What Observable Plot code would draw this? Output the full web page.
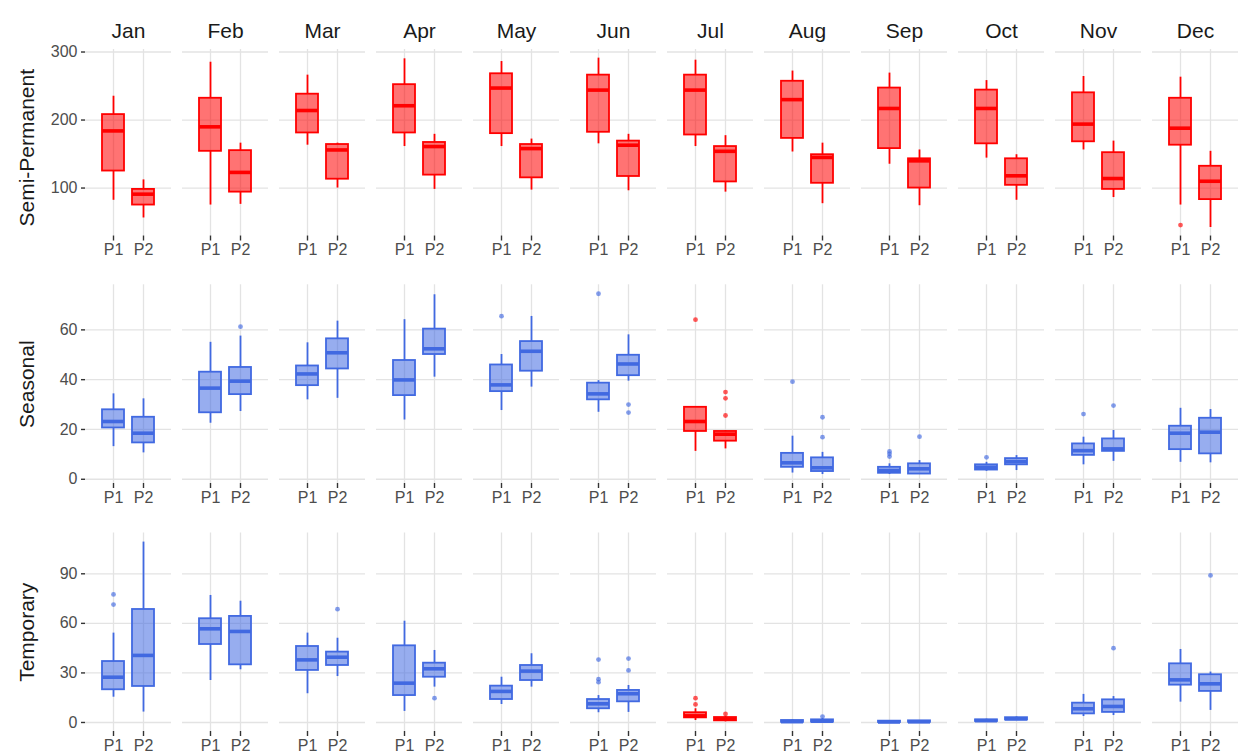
<!DOCTYPE html>
<html>
<head>
<meta charset="utf-8">
<script src="https://cdn.jsdelivr.net/npm/d3@7"></script>
<script src="https://cdn.jsdelivr.net/npm/@observablehq/plot@0.6"></script>
<style>
  body { margin: 0; background: #fff; }
  #chart svg { display: block; }
</style>
</head>
<body>
<div id="chart"></div>
<script>
// Monthly box-plot summaries for two periods (P1, P2) of three wetland classes.
// Every stat array is ordered Jan P1, Jan P2, Feb P1, Feb P2, ... Dec P2.
const months = ["Jan", "Feb", "Mar", "Apr", "May", "Jun", "Jul", "Aug", "Sep", "Oct", "Nov", "Dec"];
const periods = ["P1", "P2"];

// Semi-Permanent
const semiLo  = [82, 56, 75, 76, 163, 100, 161, 98, 161, 97, 165, 96, 161, 94, 153, 77, 135, 74, 144, 82, 156, 86, 75, 42];
const semiQ1  = [125, 75, 154, 94, 181, 113, 181, 119, 180, 115, 182, 117, 178, 109, 173, 107, 158, 100, 165, 104, 168, 98, 163, 83];
const semiMed = [184, 91, 190, 123, 214, 156, 221, 161, 247, 158, 244, 163, 244, 154, 230, 145, 217, 140, 217, 118, 194, 114, 188, 110];
const semiQ3  = [208, 98, 232, 155, 238, 164, 252, 167, 268, 164, 266, 169, 266, 161, 257, 149, 247, 143, 244, 143, 240, 152, 232, 132];
const semiHi  = [235, 112, 285, 166, 266, 166, 290, 179, 286, 172, 291, 179, 288, 177, 272, 166, 269, 156, 258, 149, 264, 169, 263, 154];
const semiOut = [["Dec", "P1", 45.5]];
const semiRed = months;

// Seasonal
const seasLo  = [13.1, 10.6, 22.5, 27.2, 31.9, 32.5, 23.8, 41, 27.6, 37, 26.9, 39.4, 11.2, 12.2, 2.5, 1.9, 1.9, 1.9, 3.2, 3.5, 5.8, 7.2, 6.8, 6.6];
const seasQ1  = [20.6, 14.6, 26.7, 34, 37.6, 44.3, 33.6, 50.1, 35.2, 43.4, 31.9, 41.6, 19.2, 15.3, 4.8, 3.1, 2.4, 2.1, 3.7, 5.8, 9.6, 11.2, 11.9, 10.2];
const seasMed = [23.2, 18.5, 36.6, 39.4, 42.3, 50.8, 39.9, 52.4, 37.9, 51.4, 34.3, 46.3, 23.2, 18.1, 6.6, 4.6, 3.5, 4.2, 4.8, 7.1, 11.5, 12.2, 18.5, 18.9];
const seasQ3  = [27.9, 24.9, 43, 44.9, 45.5, 56.4, 47.7, 60.3, 45.9, 55.3, 38.6, 49.8, 28.9, 19.2, 10.4, 8.6, 4.8, 6.2, 5.8, 8.3, 14.2, 16.2, 21.3, 24.5];
const seasHi  = [34.3, 32.3, 55, 57.5, 54.8, 63.5, 64.1, 74.1, 50.1, 65.4, 39.6, 58, 28.9, 19.6, 17.3, 10.8, 6.2, 7.5, 6.8, 9.5, 16.9, 19.6, 28.5, 28];
const seasOut = [
  ["Feb", "P2", 61.3], ["May", "P1", 65.5], ["Jun", "P1", 74.5], ["Jun", "P2", 30], ["Jun", "P2", 26.8],
  ["Jul", "P1", 64.1], ["Jul", "P2", 35], ["Jul", "P2", 32.5], ["Jul", "P2", 25.6],
  ["Aug", "P1", 39.2], ["Aug", "P2", 24.9], ["Aug", "P2", 16.9],
  ["Sep", "P1", 11.2], ["Sep", "P1", 10.2], ["Sep", "P1", 9.1], ["Sep", "P2", 17.1],
  ["Oct", "P1", 8.8], ["Nov", "P1", 26.2], ["Nov", "P2", 29.6]
];
const seasRed = ["Jul"];

// Temporary
const tempLo  = [15.3, 6.3, 25.4, 31.9, 17.4, 27.8, 6.7, 21.4, 10.9, 21.4, 5.9, 6.1, 1.2, 0.4, 0, 0, 0, 0, 0.5, 1.4, 3.6, 4.2, 12.3, 7.3];
const tempQ1  = [19.8, 21.8, 47.2, 34.9, 31.5, 34.5, 16.3, 27.4, 13.9, 25.4, 8.3, 12.5, 2.8, 1, 0.1, 0.2, 0, 0.1, 0.6, 1.5, 5.2, 6.1, 22.6, 18.8];
const tempMed = [27.4, 40.6, 56.7, 55.1, 37.9, 39.5, 23.8, 32.5, 18.8, 31.1, 11.3, 17.4, 4, 2, 0.5, 0.8, 0.3, 0.4, 1.1, 2.2, 8.3, 9.7, 25.8, 23.4];
const tempQ3  = [36.9, 68.4, 62.8, 64.2, 46, 42.6, 46.4, 35.9, 22, 34.5, 13.9, 19.4, 5.9, 3, 1.2, 1.6, 0.8, 1, 1.6, 2.9, 11.7, 13.7, 35.5, 28.9];
const tempHi  = [54.1, 109.2, 76.9, 73.4, 54.1, 51, 61.3, 43.6, 27.4, 41.6, 16.3, 22.4, 8.3, 3.6, 1.6, 2.4, 1, 1.2, 2, 3.4, 17, 15.7, 44.2, 30.5];
const tempOut = [
  ["Jan", "P1", 77.5], ["Jan", "P1", 71.4], ["Mar", "P2", 68.6], ["Apr", "P2", 14.7],
  ["Jun", "P1", 38.1], ["Jun", "P1", 26.2], ["Jun", "P1", 24.4], ["Jun", "P2", 38.7], ["Jun", "P2", 31.5],
  ["Jul", "P1", 14.7], ["Jul", "P1", 10.9], ["Jul", "P2", 5.2], ["Aug", "P2", 3.6],
  ["Nov", "P2", 45], ["Dec", "P2", 89]
];
const tempRed = ["Jul"];

const RED = "#ff0000";
const BLUE = "#4169e1";
const FONT = "'Liberation Sans', Arial, Helvetica, sans-serif";

function boxPanel({title, lo, q1, med, q3, hi, outliers, redMonths, domain, ticks,
                   height, marginTop, marginBottom, showMonths, titleDy}) {
  const colorOf = (m) => redMonths.includes(m) ? RED : BLUE;
  const boxes = months.flatMap((m, i) => periods.map((p, j) => {
    const k = i * 2 + j;
    return {month: m, period: p, lo: lo[k], q1: q1[k], med: med[k], q3: q3[k], hi: hi[k], color: colorOf(m)};
  }));
  const outs = outliers.map(([m, p, v]) => ({month: m, period: p, value: v, color: colorOf(m)}));
  const grid = {stroke: "#e3e3e3", strokeOpacity: 1, strokeWidth: 1.3};

  return Plot.plot({
    width: 1241,
    height,
    marginLeft: 82,
    marginRight: 0,
    marginTop,
    marginBottom,
    style: {fontFamily: FONT, background: "#fff", overflow: "visible"},
    fx: {domain: months, paddingInner: 0.113, paddingOuter: 0, label: null},
    x: {type: "band", domain: periods, paddingInner: 0.26, paddingOuter: 0.527, label: null},
    y: {domain, label: null},
    color: {type: "identity"},
    marks: [
      Plot.gridY(ticks, grid),
      Plot.gridX(periods, grid),
      Plot.ruleX(boxes, {fx: "month", x: "period", y1: "lo", y2: "q1", stroke: "color", strokeWidth: 1.8}),
      Plot.ruleX(boxes, {fx: "month", x: "period", y1: "q3", y2: "hi", stroke: "color", strokeWidth: 1.8}),
      Plot.barY(boxes, {fx: "month", x: "period", y1: "q1", y2: "q3", fill: "color", fillOpacity: 0.55,
                        stroke: "color", strokeWidth: 1.8}),
      Plot.tickY(boxes, {fx: "month", x: "period", y: "med", stroke: "color", strokeWidth: 3.6}),
      Plot.dot(outs, {fx: "month", x: "period", y: "value", r: 2.4, fill: "color", fillOpacity: 0.65, stroke: null}),
      Plot.axisX({tickSize: 5, tickPadding: 3, fontSize: 16, stroke: "#333", strokeWidth: 1.4, fill: "#4d4d4d", label: null}),
      Plot.axisY(ticks, {tickSize: 4, tickPadding: 4, fontSize: 16, stroke: "#333", strokeWidth: 1.4, fill: "#4d4d4d", label: null}),
      showMonths
        ? Plot.axisFx({anchor: "top", tickSize: 0, tickPadding: 12, fontSize: 21, fill: "#1a1a1a", label: null})
        : Plot.axisFx({anchor: "top", ticks: [], label: null}),
      // row title, rotated and centred on the leftmost panel
      Plot.text([{month: "Jan", label: title}], {fx: "month", text: "label", frameAnchor: "left",
        textAnchor: "middle", lineAnchor: "middle", dx: -58, dy: titleDy, rotate: -90,
        fontSize: 21, fill: "#1a1a1a"})
    ]
  });
}

const chart = document.getElementById("chart");
chart.append(
  boxPanel({title: "Semi-Permanent", lo: semiLo, q1: semiQ1, med: semiMed, q3: semiQ3, hi: semiHi,
    outliers: semiOut, redMonths: semiRed, domain: [29.5, 303.7], ticks: [100, 200, 300],
    height: 259, marginTop: 49, marginBottom: 23.5, showMonths: true, titleDy: 5}),
  boxPanel({title: "Seasonal", lo: seasLo, q1: seasQ1, med: seasMed, q3: seasQ3, hi: seasHi,
    outliers: seasOut, redMonths: seasRed, domain: [-1.7, 78.1], ticks: [0, 20, 40, 60],
    height: 248, marginTop: 25.3, marginBottom: 24, showMonths: false, titleDy: 0}),
  boxPanel({title: "Temporary", lo: tempLo, q1: tempQ1, med: tempMed, q3: tempQ3, hi: tempHi,
    outliers: tempOut, redMonths: tempRed, domain: [-5.46, 114.7], ticks: [0, 30, 60, 90],
    height: 249, marginTop: 25.5, marginBottom: 25, showMonths: false, titleDy: 0})
);
</script>
</body>
</html>
